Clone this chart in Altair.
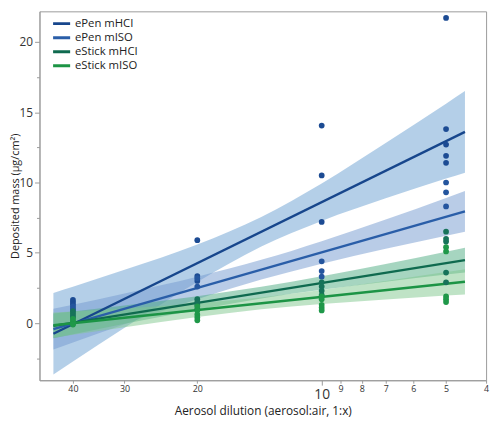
import altair as alt
import pandas as pd

groups = ["ePen mHCI", "ePen mISO", "eStick mHCI", "eStick mISO"]
line_colors = ["#17468c", "#2a5ea8", "#0f6a4f", "#1c9445"]
band_colors = ["#6a9fd1", "#7399cf", "#4dab81", "#7fc78d"]
point_colors = ["#1c4b93", "#24559e", "#17735a", "#1f9849"]

# confidence bands, read at these dilutions
band_x = [44.6, 40, 30, 20, 14, 10, 7, 5, 4.5]
band_hi = {
    "ePen mHCI": [2.15, 2.59, 3.79, 5.59, 7.55, 9.93, 12.80, 15.60, 16.5],
    "ePen mISO": [1.02, 1.31, 2.11, 3.30, 4.50, 5.83, 7.37, 8.90, 9.40],
    "eStick mHCI": [0.68, 0.83, 1.26, 1.92, 2.58, 3.33, 4.21, 5.08, 5.36],
    "eStick mISO": [0.75, 0.83, 1.05, 1.42, 1.83, 2.35, 2.99, 3.63, 3.84],
}
band_lo = {
    "ePen mHCI": [-3.65, -2.73, -0.33, 2.93, 5.45, 7.27, 8.88, 10.28, 10.7],
    "ePen mISO": [-1.88, -1.37, -0.07, 1.70, 3.10, 4.23, 5.29, 6.22, 6.50],
    "eStick mHCI": [-1.08, -0.79, -0.04, 0.96, 1.76, 2.37, 2.95, 3.46, 3.60],
    "eStick mISO": [-1.05, -0.83, -0.29, 0.44, 0.99, 1.37, 1.69, 1.97, 2.04],
}

# fitted lines (end points)
line_x = [44.6, 4.5]
line_y = {
    "ePen mHCI": [-0.75, 13.6],
    "ePen mISO": [-0.43, 7.95],
    "eStick mHCI": [-0.2, 4.48],
    "eStick mISO": [-0.15, 2.94],
}

# measured points
pts = {
    "ePen mHCI": {40: [1.65, 1.5, 1.35], 20: [5.9, 3.35, 3.0], 10: [14.05, 10.5, 7.2],
                  5: [21.7, 13.8, 12.7, 11.9, 11.4]},
    "ePen mISO": {40: [1.2, 1.05, 0.95], 20: [3.2, 2.6], 10: [4.4, 3.7, 3.3],
                  5: [10.0, 9.3, 8.3]},
    "eStick mHCI": {40: [0.85, 0.7, 0.55, 0.4], 20: [1.7, 1.5, 1.3, 1.0], 10: [2.9, 2.6, 2.3, 2.0],
                    5: [6.5, 6.0, 5.8, 3.6, 2.9]},
    "eStick mISO": {40: [0.3, 0.15, 0.05, -0.05, -0.1], 20: [1.2, 0.9, 0.6, 0.4, 0.2],
                    10: [1.9, 1.7, 1.3, 1.1, 0.9], 5: [5.4, 5.1, 1.9, 1.7, 1.5]},
}

x_ticks = [40, 30, 20, 10, 9, 8, 7, 6, 5, 4]
y_ticks = [-2.5, 0, 2.5, 5, 7.5, 10, 12.5, 15, 17.5, 20]

band_rows, line_rows, pt_rows = [], [], []
for i, g in enumerate(groups):
    for k, xv in enumerate(band_x):
        band_rows.append({"group": g, "order": i, "x": xv, "lo": band_lo[g][k],
                          "hi": band_hi[g][k], "fill": band_colors[i]})
    for k, xv in enumerate(line_x):
        line_rows.append({"group": g, "x": xv, "y": line_y[g][k]})
    for xv, ys in pts[g].items():
        for yv in ys:
            pt_rows.append({"group": g, "x": xv, "y": yv, "pc": point_colors[i]})

bands = pd.DataFrame(band_rows)
lines = pd.DataFrame(line_rows)
points = pd.DataFrame(pt_rows)

FONT = "Open Sans"
xscale = alt.Scale(type="log", domain=[4, 48.2], reverse=True, nice=False)
yscale = alt.Scale(domain=[-4.06, 22.17], nice=False, zero=False)

xaxis = alt.Axis(
    values=x_ticks, title="Aerosol dilution (aerosol:air, 1:x)", grid=False,
    labelFontSize={"condition": {"test": "datum.value == 10", "value": 14}, "value": 9},
    tickSize={"condition": {"test": "datum.value == 10", "value": 5}, "value": 3},
    labelPadding={"condition": {"test": "datum.value == 10", "value": 3}, "value": 1},
    labelFlush=False, labelOverlap=False, format="d",
    domainColor="#9a9a9a", tickColor="#9a9a9a", labelColor="#333333",
    titleFontSize=12, titleFontWeight="normal", titleColor="#222222", titlePadding=4,
    labelFont=FONT, titleFont=FONT,
)
yaxis = alt.Axis(
    values=y_ticks, title="Deposited mass (µg/cm²)", grid=False,
    labelExpr="datum.value % 5 == 0 ? datum.label : ''",
    tickSize={"condition": {"test": "datum.value % 5 == 0", "value": 5}, "value": 3},
    domainColor="#9a9a9a", tickColor="#9a9a9a", labelColor="#333333",
    labelFontSize=12, labelPadding=2,
    titleFontSize=11, titleFontWeight="normal", titleColor="#222222",
    titleX=-24, titleBaseline="middle", titleAngle=270,
    labelFont=FONT, titleFont=FONT,
)

area = alt.Chart(bands).mark_area(opacity=0.5, interpolate="monotone").encode(
    x=alt.X("x:Q", scale=xscale, axis=xaxis),
    y=alt.Y("lo:Q", scale=yscale, axis=yaxis),
    y2="hi:Q",
    color=alt.Color("fill:N", scale=None, legend=None),
    detail="group:N",
    order="order:Q",
)

line = alt.Chart(lines).mark_line(strokeWidth=2.4).encode(
    x=alt.X("x:Q", scale=xscale),
    y=alt.Y("y:Q", scale=yscale),
    color=alt.Color(
        "group:N",
        scale=alt.Scale(domain=groups, range=line_colors),
        legend=alt.Legend(
            title=None, orient="none", legendX=12, legendY=6,
            symbolType="stroke", symbolSize=300, symbolStrokeWidth=3,
            labelFontSize=11.5, labelColor="#222222", labelFont=FONT,
            clipHeight=13, rowPadding=1.3, labelOffset=3,
        ),
    ),
)

point = alt.Chart(points).mark_circle(size=34, opacity=1).encode(
    x=alt.X("x:Q", scale=xscale),
    y=alt.Y("y:Q", scale=yscale),
    color=alt.Color("pc:N", scale=None, legend=None),
)

chart = (
    alt.layer(area, line, point)
    .properties(width=454, height=375, autosize=alt.AutoSizeParams(type="none"),
                padding={"left": 32, "top": 0, "right": 6, "bottom": 36})
    .configure_view(stroke="#9a9a9a", strokeWidth=1)
    .resolve_scale(color="independent")
)

chart.save("out.html", embed_options={"renderer": "svg", "actions": False})
